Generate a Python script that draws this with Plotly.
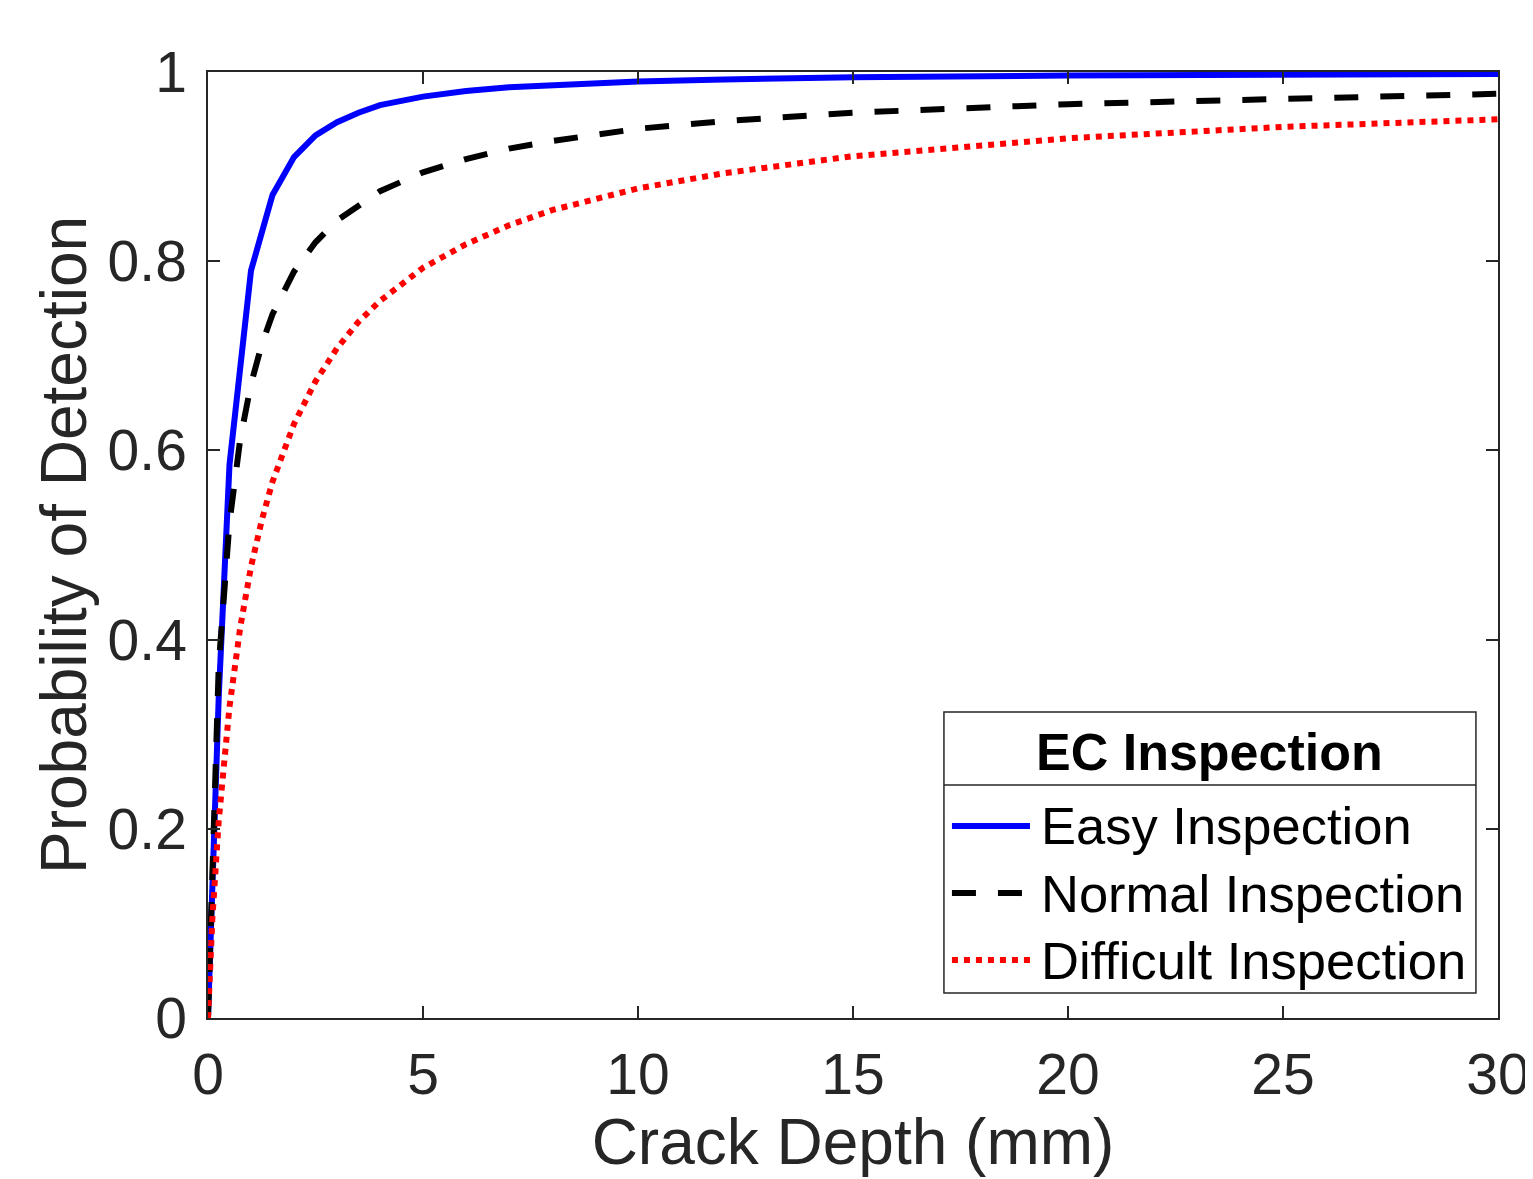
import plotly.graph_objects as go

# Crack depth (mm) sample points and POD values
easy_x = [0, 0.25, 0.5, 1, 1.5, 2, 2.5, 3, 3.5, 4, 5, 6, 7, 8, 10, 12, 15, 20, 25, 30]
easy_y = [0, 0.34, 0.585, 0.79, 0.87, 0.91, 0.933, 0.947, 0.957, 0.965, 0.974, 0.98,
          0.984, 0.986, 0.99, 0.992, 0.9945, 0.9963, 0.9973, 0.998]

normal_x = [0, 0.25, 0.5, 0.75, 1, 1.25, 1.5, 2, 2.5, 3, 4, 5, 6, 7, 8, 10, 12, 15, 20, 25, 30]
normal_y = [0, 0.373, 0.524, 0.612, 0.67, 0.712, 0.744, 0.789, 0.82, 0.843, 0.874, 0.894,
            0.908, 0.919, 0.927, 0.94, 0.948, 0.957, 0.966, 0.972, 0.977]

difficult_x = [0, 0.1, 0.25, 0.5, 0.75, 1, 1.25, 1.5, 2, 2.5, 3, 3.5, 4, 5, 6, 7, 8, 10, 12, 15, 20, 25, 30]
difficult_y = [0, 0.104, 0.209, 0.329, 0.413, 0.477, 0.526, 0.567, 0.628, 0.673, 0.708, 0.736,
               0.758, 0.793, 0.818, 0.838, 0.854, 0.877, 0.893, 0.911, 0.93, 0.942, 0.95]

x_ticks = [0, 5, 10, 15, 20, 25, 30]
y_ticks = [0, 0.2, 0.4, 0.6, 0.8, 1]
y_tick_labels = ["0", "0.2", "0.4", "0.6", "0.8", "1"]

series_names = ["Easy Inspection", "Normal Inspection", "Difficult Inspection"]
legend_title = "EC Inspection"

FONT = "Liberation Sans, Arial, Helvetica, sans-serif"
TXT = "#262626"
AX = "#262626"
LW = 6
DASH = "24px,22px"
DOT = "6px,6px"

fig = go.Figure()
fig.add_trace(go.Scatter(x=easy_x, y=easy_y, mode="lines", name=series_names[0],
                         line=dict(color="#0000ff", width=LW), showlegend=False))
fig.add_trace(go.Scatter(x=normal_x, y=normal_y, mode="lines", name=series_names[1],
                         line=dict(color="#000000", width=LW, dash=DASH), showlegend=False))
fig.add_trace(go.Scatter(x=difficult_x, y=difficult_y, mode="lines", name=series_names[2],
                         line=dict(color="#ff0000", width=LW, dash=DOT), showlegend=False))

# Legend drawn manually (paper coordinates)
lx0, lx1, ly0, ly1 = 0.5705, 0.9829, 0.0264, 0.3235
sep_y = 0.2463
shapes = [
    dict(type="rect", xref="paper", yref="paper", x0=lx0, x1=lx1, y0=ly0, y1=ly1,
         line=dict(color=AX, width=1.5), fillcolor="white", layer="above"),
    dict(type="line", xref="paper", yref="paper", x0=lx0, x1=lx1, y0=sep_y, y1=sep_y,
         line=dict(color=AX, width=1.5), layer="above"),
]
entry_y = [0.2030, 0.1321, 0.0613]
styles = [dict(color="#0000ff", width=LW),
          dict(color="#000000", width=LW, dash=DASH),
          dict(color="#ff0000", width=LW, dash=DOT)]
annotations = [dict(text="<b>" + legend_title + "</b>", x=0.7767, y=0.2812, xref="paper", yref="paper",
                    showarrow=False, xanchor="center", yanchor="middle",
                    font=dict(family=FONT, size=52, color="#000000"))]
for name, ey, st in zip(series_names, entry_y, styles):
    shapes.append(dict(type="line", xref="paper", yref="paper", x0=0.5767, x1=0.6372, y0=ey, y1=ey,
                       line=st, layer="above"))
    annotations.append(dict(text=name, x=0.6445, y=ey, xref="paper", yref="paper", showarrow=False,
                            xanchor="left", yanchor="middle",
                            font=dict(family=FONT, size=52.5, color="#000000")))

fig.update_layout(
    width=1533, height=1179,
    margin=dict(l=200, r=43, t=64, b=169),
    paper_bgcolor="white", plot_bgcolor="white",
    font=dict(family=FONT, color=TXT),
    shapes=shapes, annotations=annotations,
    xaxis=dict(range=[0, 30], tickvals=x_ticks, ticks="inside", ticklen=12, tickwidth=1.5,
               tickcolor=AX, showline=True, linecolor=AX, linewidth=1.5, mirror="ticks",
               showgrid=False, zeroline=False, tickfont=dict(size=57, color=TXT),
               ticklabelstandoff=6,
               title=dict(text="Crack Depth (mm)", font=dict(size=64, color=TXT), standoff=12)),
    yaxis=dict(range=[0, 1], tickvals=y_ticks, ticktext=y_tick_labels, ticks="inside", ticklen=12,
               tickwidth=1.5, tickcolor=AX, showline=True, linecolor=AX, linewidth=1.5, mirror="ticks",
               showgrid=False, zeroline=False, tickfont=dict(size=57, color=TXT),
               ticklabelstandoff=8,
               title=dict(text="Probability of Detection", font=dict(size=64, color=TXT), standoff=0)),
)

fig.write_html("out.html")
